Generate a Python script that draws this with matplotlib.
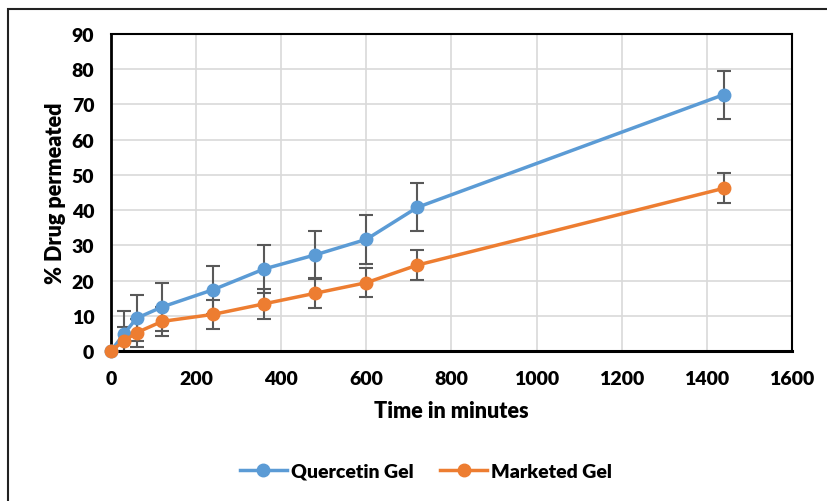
import numpy as np
import matplotlib; matplotlib.use("Agg")
import matplotlib.pyplot as plt
from matplotlib.patches import Rectangle

time_min = [0, 30, 60, 120, 240, 360, 480, 600, 720, 1440]
quercetin = [0, 4.8, 9.3, 12.5, 17.4, 23.3, 27.3, 31.7, 40.8, 72.8]
quercetin_sd = [0, 6.6, 6.6, 6.7, 6.8, 6.9, 6.8, 6.9, 6.8, 6.8]
marketed = [0, 2.8, 5.2, 8.4, 10.4, 13.4, 16.4, 19.4, 24.4, 46.2]
marketed_sd = [0, 3.9, 4.0, 4.2, 4.2, 4.2, 4.2, 4.2, 4.2, 4.2]

plt.rcParams["font.family"] = ["Lato", "DejaVu Sans"]
W = "heavy"

fig = plt.figure(figsize=(8.28, 5.02), dpi=100)
fig.patches.append(Rectangle((8 / 828, -0.1), 1.0, 1 - 10 / 502 + 0.1, transform=fig.transFigure,
                             fill=False, ec="#222222", lw=1.5))
ax = fig.add_axes([111 / 828, 1 - 352 / 502, (792 - 111) / 828, (352 - 35) / 502])

ebkw = dict(ecolor="#595959", elinewidth=1.5, capsize=5, capthick=1.5, zorder=2)
ax.errorbar(time_min, quercetin, yerr=quercetin_sd, fmt="none", **ebkw)
ax.errorbar(time_min, marketed, yerr=marketed_sd, fmt="none", **ebkw)
ax.plot(time_min, quercetin, "-o", color="#5B9BD5", lw=2.5, ms=9, label="Quercetin Gel", zorder=3, clip_on=False)
ax.plot(time_min, marketed, "-o", color="#ED7D31", lw=2.5, ms=9, label="Marketed Gel", zorder=4, clip_on=False)

ax.set_xlim(0, 1600); ax.set_ylim(0, 90)
ax.set_xticks(np.arange(0, 1601, 200)); ax.set_yticks(np.arange(0, 91, 10))
ax.grid(color="#d9d9d9", lw=1.2); ax.set_axisbelow(True)
for s in ax.spines.values():
    s.set_color("black"); s.set_linewidth(1.5)
ax.spines["left"].set_linewidth(2); ax.spines["bottom"].set_linewidth(2.2)
ax.tick_params(axis="y", length=0, labelsize=14, pad=12)
ax.tick_params(axis="x", length=0, labelsize=14, pad=14)
for t in ax.get_xticklabels() + ax.get_yticklabels():
    t.set_fontweight(W)
ax.set_xlabel("Time in minutes", fontsize=15.5, fontweight=W, labelpad=9)
ax.set_ylabel("% Drug permeated", fontsize=15.5, fontweight=W, labelpad=4)
fig.legend(loc="center", bbox_to_anchor=(426 / 828, 1 - 472 / 502), ncol=2, frameon=False,
           prop={"size": 14, "weight": W}, columnspacing=1.4, handlelength=2.4, handletextpad=0.2)
fig.savefig("out.png", dpi=100)
